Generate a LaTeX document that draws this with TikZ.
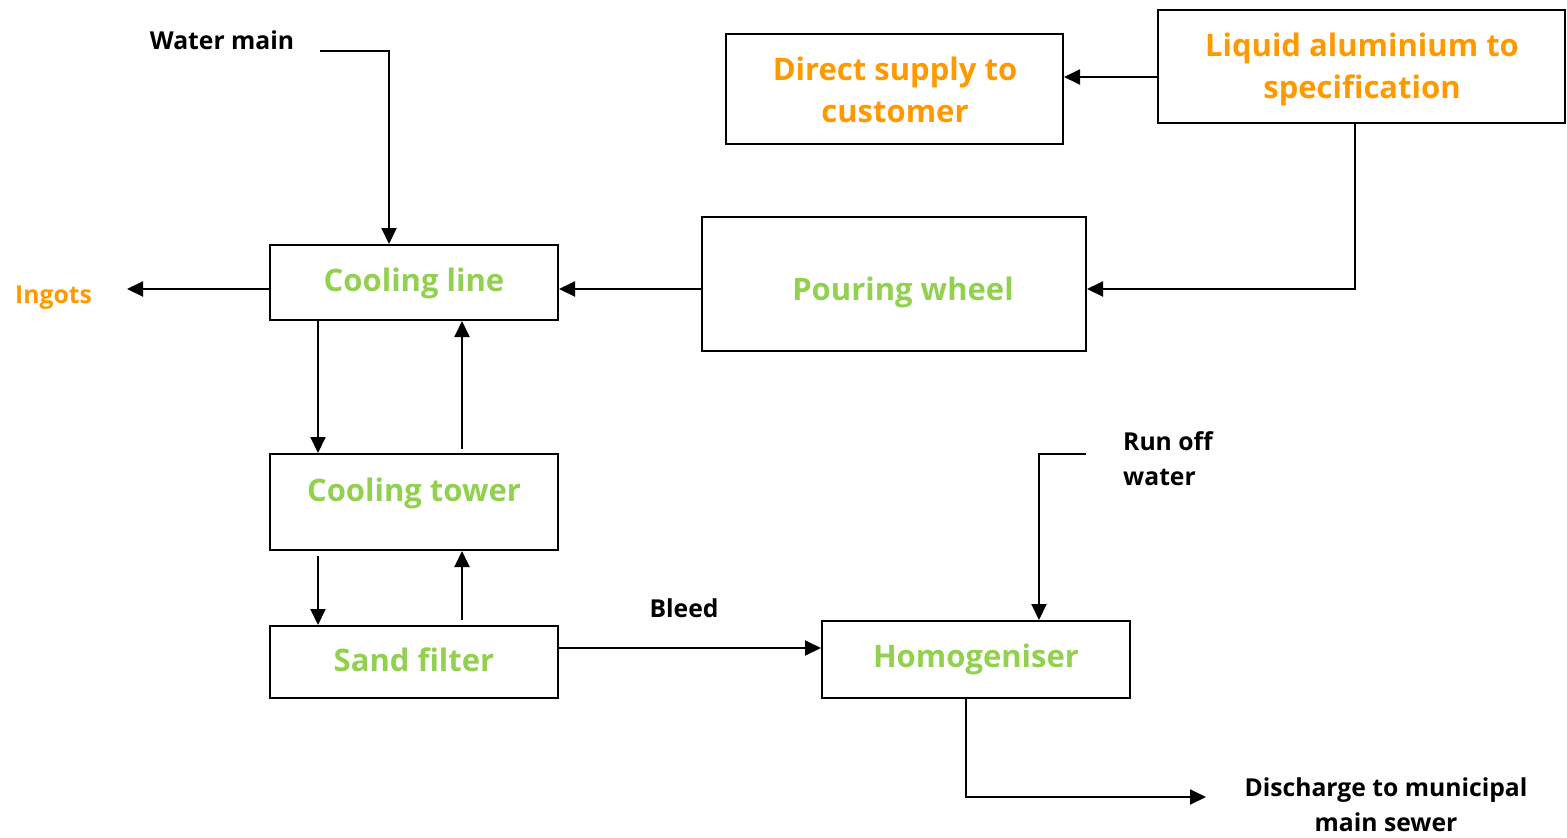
\documentclass[tikz,border=0pt]{standalone}
\usepackage{fontspec}
\setmainfont{Open Sans}
\usetikzlibrary{arrows.meta}
\definecolor{boxgreen}{HTML}{92D050}
\definecolor{boxorange}{HTML}{FF9900}
\begin{document}
\begin{tikzpicture}[x=1pt,y=-1pt,
  box/.style={draw, line width=2pt, inner sep=0pt},
  gtxt/.style={text=boxgreen, font=\fontsize{31}{42}\selectfont\bfseries, anchor=base, inner sep=0pt},
  otxt/.style={gtxt, text=boxorange, align=center},
  ltxt/.style={font=\fontsize{24.7}{34.5}\selectfont\bfseries, anchor=base, inner sep=0pt},
  flow/.style={line width=2pt, -{Triangle[length=16pt,width=15pt]}},
  plain/.style={line width=2pt}]
\useasboundingbox (0,0) rectangle (1567,838);
% boxes
\node[box, minimum width=288pt, minimum height=75pt] (cl) at (414,282.5) {};
\node[box, minimum width=384pt, minimum height=134pt] (pw) at (894,284) {};
\node[box, minimum width=337pt, minimum height=110pt] (ds) at (894.5,89) {};
\node[box, minimum width=407pt, minimum height=113pt] (la) at (1361.5,66.5) {};
\node[box, minimum width=288pt, minimum height=96pt] (ct) at (414,502) {};
\node[box, minimum width=288pt, minimum height=72pt] (sf) at (414,662) {};
\node[box, minimum width=308pt, minimum height=77pt] (hm) at (976,659.5) {};
% box texts
\node[gtxt] (clt) at (414,291) {Cooling line};
\node[gtxt] (pwt) at (903,300) {Pouring wheel};
\node[otxt] (dst) at (895,122) {Direct supply to\\customer};
\node[otxt] (lat) at (1362,98) {Liquid aluminium to\\specification};
\node[gtxt] (ctt) at (414,501) {Cooling tower};
\node[gtxt] (sft) at (414,671) {Sand filter};
\node[gtxt] (hmt) at (976,667) {Homogeniser};
% free labels
\node[ltxt, text=boxorange, anchor=base west] (ing) at (15,303) {Ingots};
\node[ltxt] (wmt) at (222,49) {Water main};
\node[ltxt] (blt) at (684,617) {Bleed};
\node[ltxt, anchor=base west, align=left] (rot) at (1123,485) {Run off\\water};
\node[ltxt, align=center] (dct) at (1386,831) {Discharge to municipal\\main sewer};
% free ends
\coordinate (ingE) at (127,289);
\coordinate (wmS) at (320,51);
\coordinate (roS) at (1086,454);
\coordinate (dcE) at (1206,797);
% connectors
\coordinate (a1) at ([yshift=-10.5pt]la.west);
\draw[flow] (a1) -- (a1 -| ds.east);
\draw[flow] ([xshift=-6.5pt]la.south) |- ([yshift=-5pt]pw.east);
\coordinate (a2) at ([yshift=-5pt]pw.west);
\draw[flow] (a2) -- (a2 -| cl.east);
\draw[flow] ([yshift=-6.5pt]cl.west) -- (ingE);
\draw[flow] (wmS) -| ([xshift=-25pt]cl.north);
\draw[flow] ([xshift=-96pt]cl.south) -- ([xshift=-96pt]ct.north);
\draw[flow] ([xshift=48pt,yshift=4pt]ct.north) -- ([xshift=48pt]cl.south);
\draw[flow] ([xshift=-96pt,yshift=-5pt]ct.south) -- ([xshift=-96pt]sf.north);
\draw[flow] ([xshift=48pt,yshift=5pt]sf.north) -- ([xshift=48pt]ct.south);
\coordinate (a3) at ([yshift=14pt]sf.east);
\draw[flow] (a3) -- (a3 -| hm.west);
\draw[flow] (roS) -| ([xshift=63pt]hm.north);
\draw[flow] ([xshift=-10pt]hm.south) |- (dcE);
\end{tikzpicture}
\end{document}
